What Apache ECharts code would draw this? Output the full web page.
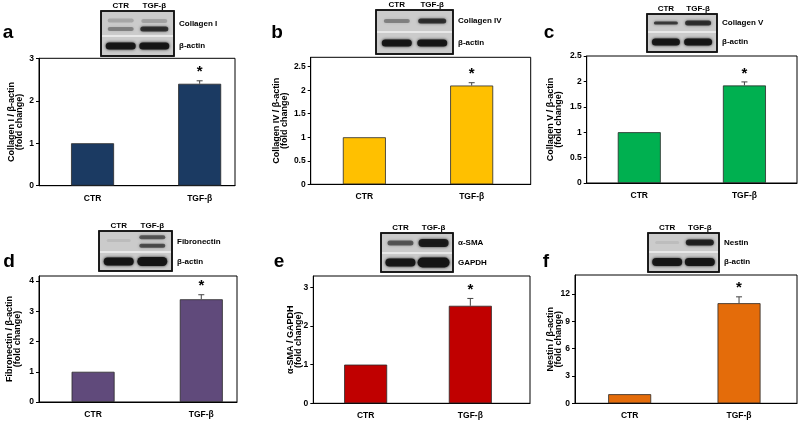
<!DOCTYPE html>
<html><head><meta charset="utf-8">
<script src="https://cdn.jsdelivr.net/npm/echarts@6/dist/echarts.min.js"></script>
<style>html,body{margin:0;padding:0;background:#fff}#c{width:800px;height:421px}</style>
</head><body><div id="c"></div>
<script>
// ---------- DATA ----------
const categories = ['CTR', 'TGF-β'];
const significance = ['', '*'];
const panelLetters = ['a', 'b', 'c', 'd', 'e', 'f'];
const yTitles = [
  'Collagen I / β-actin\n(fold change)',
  'Collagen IV / β-actin\n(fold change)',
  'Collagen V / β-actin\n(fold change)',
  'Fibronectin / β-actin\n(fold change)',
  'α-SMA / GAPDH\n(fold change)',
  'Nestin / β-actin\n(fold change)'
];
const collagenI = [1, 2.40];     const collagenIErr = [0, 0.07];
const collagenIV = [1, 2.10];    const collagenIVErr = [0, 0.06];
const collagenV = [1, 1.92];     const collagenVErr = [0, 0.07];
const fibronectin = [1, 3.40];   const fibronectinErr = [0, 0.15];
const alphaSMA = [1, 2.52];      const alphaSMAErr = [0, 0.19];
const nestin = [1, 11.0];        const nestinErr = [0, 0.70];
const ticksA = [0, 1, 2, 3];
const ticksB = [0, 0.5, 1, 1.5, 2, 2.5];
const ticksC = [0, 0.5, 1, 1.5, 2, 2.5];
const ticksD = [0, 1, 2, 3, 4];
const ticksE = [0, 1, 2, 3];
const ticksF = [0, 3, 6, 9, 12];
const blotProteins = [
  ['Collagen I', 'β-actin'], ['Collagen IV', 'β-actin'], ['Collagen V', 'β-actin'],
  ['Fibronectin', 'β-actin'], ['α-SMA', 'GAPDH'], ['Nestin', 'β-actin']
];

// ---------- LAYOUT / STYLE ----------
const FONT = '"Liberation Sans", Arial, sans-serif';
const panels = [
  {vals: collagenI, errs: collagenIErr, ticks: ticksA, color: '#1b3a62', grid: [39, 58.3, 196, 127.4], xr: [0.5, 2.33], ymax: 3, gap: 15, letter: [8, 33],
   blot: [101, 11, 174, 36, 56], bands: [[0,0,0.38,13,2,0.18],[0,0,0.72,13,2,0.35],[1,0,0.4,13,2,0.2],[1,0,0.72,14,2.5,0.75],[0,1,0.5,15,3.5,0.95],[1,1,0.5,15,3.5,0.95]]},
  {vals: collagenIV, errs: collagenIVErr, ticks: ticksB, color: '#ffc000', grid: [310.7, 57.3, 220, 127], xr: [0.5, 2.55], ymax: 2.7, gap: 22.5, letter: [277, 33],
   blot: [376, 10, 453, 32, 54], bands: [[0,0,0.5,13,2,0.35],[1,0,0.5,14,2.5,0.75],[0,1,0.5,15,3.5,0.95],[1,1,0.5,15,3.5,0.95]]},
  {vals: collagenV, errs: collagenVErr, ticks: ticksC, color: '#00b050', grid: [586.7, 56, 210.3, 127], xr: [0.5, 2.5], ymax: 2.5, gap: 24, letter: [549, 33],
   blot: [647, 14, 717, 32, 52], bands: [[0,0,0.5,12,1.5,0.7],[1,0,0.5,13,2.5,0.75],[0,1,0.5,14,3.5,0.95],[1,1,0.5,14,3.5,0.95]]},
  {vals: fibronectin, errs: fibronectinErr, ticks: ticksD, color: '#604a7b', grid: [39, 276, 198, 126], xr: [0.5, 2.33], ymax: 4.17, gap: 17, letter: [9, 262],
   blot: [99, 231, 172, 252, 271], bands: [[0,0,0.45,12,1.5,0.08],[1,0,0.3,13,2,0.55],[1,0,0.7,13,2,0.6],[0,1,0.5,15,4,0.97],[1,1,0.5,15,4.5,0.97]]},
  {vals: alphaSMA, errs: alphaSMAErr, ticks: ticksE, color: '#c00000', grid: [313.3, 276, 216.7, 127.3], xr: [0.5, 2.57], ymax: 3.29, gap: 10.5, letter: [279, 262],
   blot: [381, 233, 453, 253, 272], bands: [[0,0,0.5,13,2.5,0.55],[1,0,0.5,15,4,0.9],[0,1,0.5,15,4,0.95],[1,1,0.5,16,5,0.98]]},
  {vals: nestin, errs: nestinErr, ticks: ticksF, color: '#e46c0a', grid: [575, 275, 222, 128.3], xr: [0.5, 2.53], ymax: 14.1, gap: 12.5, letter: [546, 262],
   blot: [648, 233, 719, 252, 272], bands: [[0,0,0.5,12,1.5,0.07],[1,0,0.5,14,3,0.85],[0,1,0.5,15,4,0.95],[1,1,0.5,15,4,0.95]]}
];

const grids = [], xAxes = [], yAxes = [], series = [], graphics = [];
const txt = (x, y, text, size, align) => ({
  type: 'text', x, y, silent: true,
  style: {text, fill: '#000', font: 'bold ' + size + 'px ' + FONT, textAlign: align || 'center', textVerticalAlign: 'middle', align: align || 'center', verticalAlign: 'middle'}
});

panels.forEach((p, i) => {
  const [l, t, w, h] = p.grid;
  grids.push({left: l, top: t, width: w, height: h, show: true, borderColor: '#000', borderWidth: 1, backgroundColor: 'transparent', containLabel: false});
  xAxes.push({
    gridIndex: i, type: 'value', min: p.xr[0], max: p.xr[1],
    axisLine: {show: true, lineStyle: {color: '#000', width: 1}}, axisTick: {show: false}, splitLine: {show: false},
    axisLabel: {customValues: categories.map((c, k) => k + 1), formatter: v => categories[Math.round(v) - 1] || '', color: '#000', fontWeight: 'bold', fontSize: 8.5, fontFamily: FONT, margin: 8}
  });
  yAxes.push({
    gridIndex: i, type: 'value', min: 0, max: p.ymax,
    axisLine: {show: true, lineStyle: {color: '#000', width: 1}},
    axisTick: {show: true, inside: false, length: 3, customValues: p.ticks, lineStyle: {color: '#000'}},
    splitLine: {show: false},
    axisLabel: {customValues: p.ticks, color: '#000', fontWeight: 'bold', fontSize: 8.5, fontFamily: FONT, margin: 5},
    name: yTitles[i], nameLocation: 'middle', nameRotate: 90, nameGap: p.gap, nameMoveOverlap: false,
    nameTextStyle: {color: '#000', fontWeight: 'bold', fontSize: 9, fontFamily: FONT, lineHeight: 8, align: 'center'}
  });
  series.push({
    type: 'bar', xAxisIndex: i, yAxisIndex: i, barWidth: 43,
    data: p.vals.map((v, k) => [k + 1, v]),
    itemStyle: {color: p.color, borderColor: '#2a2a2a', borderWidth: 0.8},
    silent: true
  });
  series.push({
    type: 'custom', xAxisIndex: i, yAxisIndex: i, silent: true, z: 5,
    data: p.vals.map((v, k) => [k + 1, v, p.errs[k], k]),
    renderItem: (params, api) => {
      const x = api.value(0), v = api.value(1), e = api.value(2), k = api.value(3);
      const top = api.coord([x, v + e]);
      const base = api.coord([x, v]);
      const children = [];
      if (e > 0) {
        children.push({type: 'line', shape: {x1: base[0], y1: base[1], x2: top[0], y2: top[1]}, style: {stroke: '#444', lineWidth: 1}});
        children.push({type: 'line', shape: {x1: top[0] - 3, y1: top[1], x2: top[0] + 3, y2: top[1]}, style: {stroke: '#444', lineWidth: 1}});
      }
      const s = significance[k];
      if (s) children.push({type: 'text', x: top[0], y: top[1] - 1, style: {text: s, fill: '#000', font: 'bold 15px ' + FONT, textAlign: 'center', textVerticalAlign: 'bottom', align: 'center', verticalAlign: 'bottom'}});
      return {type: 'group', children};
    }
  });

  // panel letter
  graphics.push(txt(p.letter[0], p.letter[1], panelLetters[i], 19));

  // western blot picture (decoration)
  const [x0, y0, x1, ys, y1] = p.blot;
  const lanes = [x0 + (x1 - x0) * 0.27, x0 + (x1 - x0) * 0.73];
  graphics.push({type: 'rect', silent: true, shape: {x: x0, y: y0, width: x1 - x0, height: y1 - y0}, style: {fill: '#cbcbcb', stroke: '#111', lineWidth: 1.5}});
  p.bands.forEach(b => {
    const [lane, row, fy, rx, ry, a] = b;
    const ra = row === 0 ? y0 : ys, rb = row === 0 ? ys : y1;
    const cy = ra + (rb - ra) * fy;
    graphics.push({type: 'rect', silent: true, shape: {x: lanes[lane] - rx, y: cy - ry, width: 2 * rx, height: 2 * ry, r: ry},
      style: {fill: 'rgba(20,20,20,' + a + ')', shadowBlur: 3, shadowColor: 'rgba(20,20,20,' + a + ')'}});
  });
  graphics.push({type: 'line', silent: true, shape: {x1: x0 + 1, y1: ys, x2: x1 - 1, y2: ys}, style: {stroke: '#f2f2f2', lineWidth: 1.5}});
  graphics.push({type: 'rect', silent: true, shape: {x: x0, y: y0, width: x1 - x0, height: y1 - y0}, style: {fill: 'none', stroke: '#111', lineWidth: 1.5}});
  graphics.push(txt(lanes[0], y0 - 5, categories[0], 8));
  graphics.push(txt(lanes[1], y0 - 5, categories[1], 8));
  graphics.push(txt(x1 + 5, (y0 + ys) / 2, blotProteins[i][0], 8, 'left'));
  graphics.push(txt(x1 + 5, (ys + y1) / 2, blotProteins[i][1], 8, 'left'));
});

const chart = echarts.init(document.getElementById('c'));
chart.setOption({
  animation: false,
  backgroundColor: '#fff',
  grid: grids, xAxis: xAxes, yAxis: yAxes, series,
  graphic: {elements: graphics}
});
</script></body></html>
